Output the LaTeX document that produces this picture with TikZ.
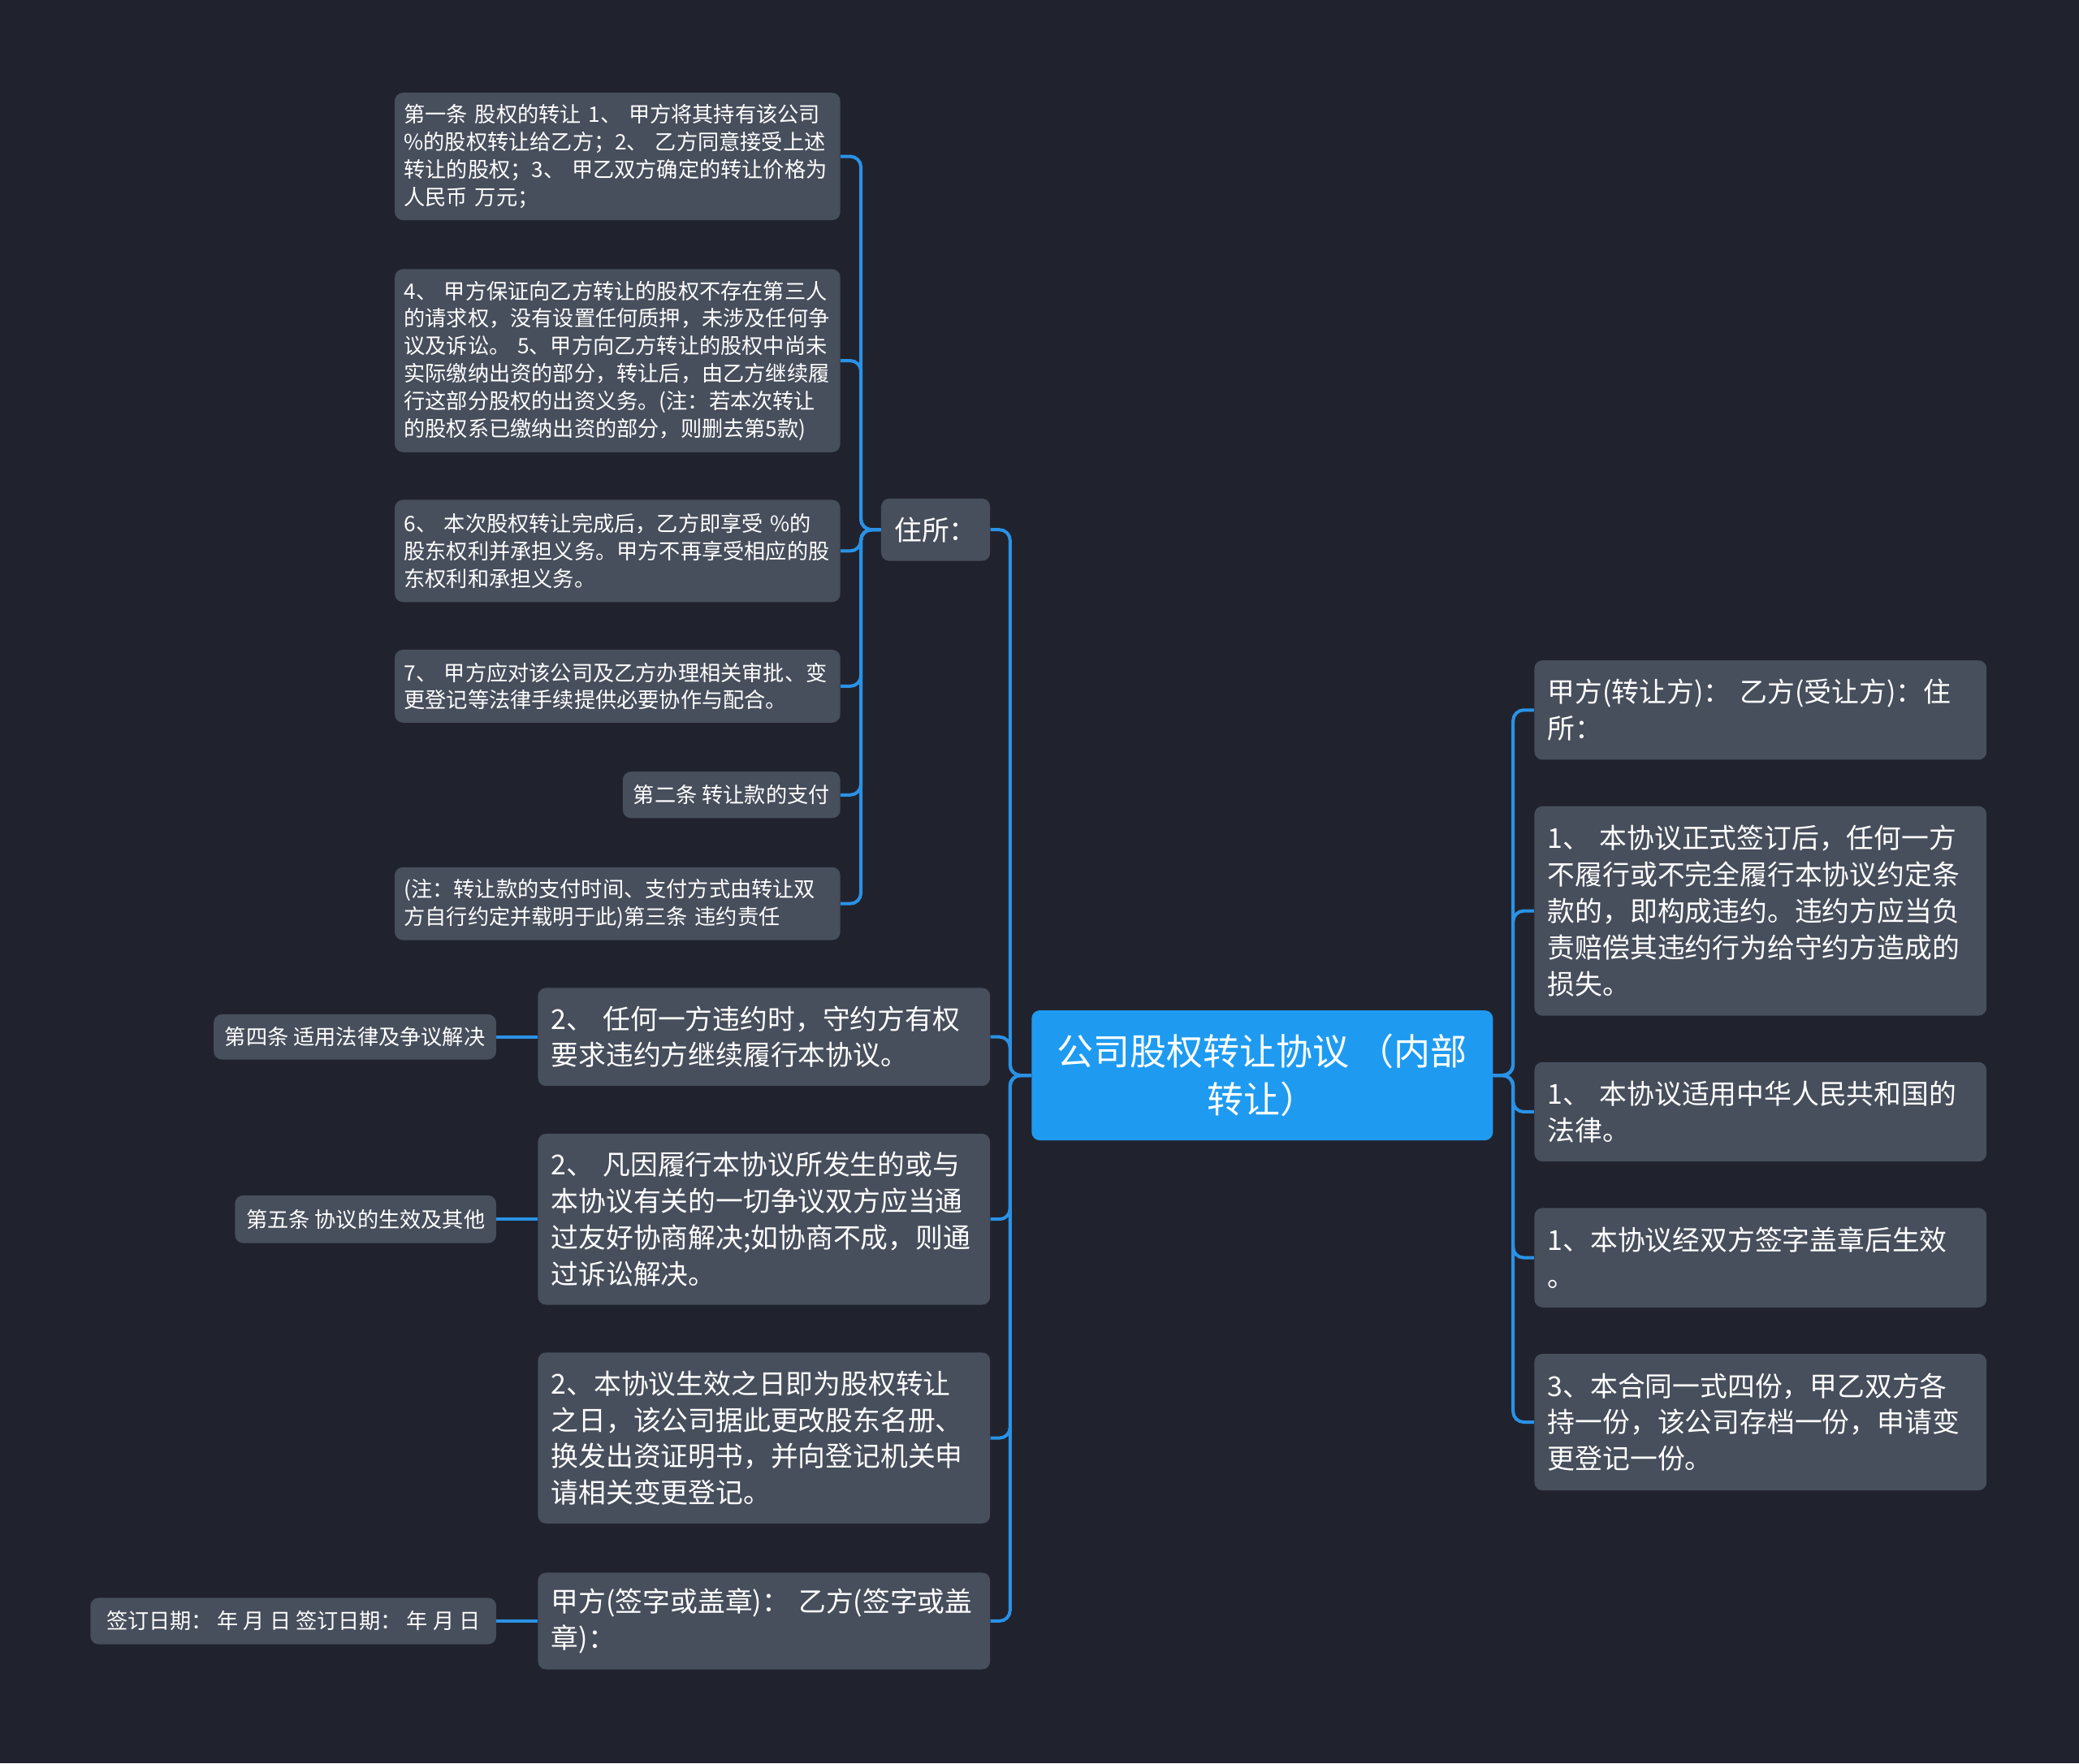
\documentclass[tikz,border=0pt]{standalone}
\usepackage{fontspec}
\setmainfont{Noto Sans CJK SC}
\usetikzlibrary{positioning}
\definecolor{bgNavy}{HTML}{20232E}
\definecolor{boxSlate}{HTML}{474E5C}
\definecolor{rootBlue}{HTML}{1E9BF0}
\definecolor{linkBlue}{HTML}{2A92E6}
\newcommand\fsSmall{\fontsize{13.1pt}{16.9pt}\selectfont}
\newcommand\fsMid{\fontsize{16.9pt}{22.4pt}\selectfont}
\newcommand\fsRoot{\fontsize{22.5pt}{29.4pt}\selectfont}

\begin{document}
\begin{tikzpicture}[x=0.8163pt,y=-0.8163pt,
  leaf/.style={fill=boxSlate,rounded corners=5pt,text=white,font=\fsSmall,align=left,inner xsep=5.7pt,inner ysep=0pt},
  topic/.style={fill=boxSlate,rounded corners=5pt,text=white,font=\fsMid,align=left,inner xsep=8.2pt,inner ysep=0pt,text width=262pt},
  rootbox/.style={fill=rootBlue,rounded corners=5pt,text=white,font=\fsRoot,align=center,minimum width=284pt,minimum height=80pt},
  link/.style={draw=linkBlue,line width=2pt,rounded corners=6.5pt}]
  \fill[bgNavy] (0,0) rectangle (1568,1330);
  \useasboundingbox (0,0) rectangle (1568,1330);

  % centre
  \node[rootbox] (root) at (952,811) {公司股权转让协议 （内部\\转让）};

  % right branch
  \node[topic,anchor=west,minimum height=61.2pt] (r1) at (1157,535.5) {甲方(转让方)：~乙方(受让方)：住\\所：};
  \node[topic,anchor=west,minimum height=129pt] (r2) at (1157,687) {1、~本协议正式签订后，任何一方\\不履行或不完全履行本协议约定条\\款的，即构成违约。违约方应当负\\责赔偿其违约行为给守约方造成的\\损失。};
  \node[topic,anchor=west,minimum height=61.2pt] (r3) at (1157,838.5) {1、~本协议适用中华人民共和国的\\法律。};
  \node[topic,anchor=west,minimum height=61.2pt] (r4) at (1157,948.5) {1、本协议经双方签字盖章后生效\\。};
  \node[topic,anchor=west,minimum height=84.1pt] (r5) at (1157,1072.5) {3、本合同一式四份，甲乙双方各\\持一份，该公司存档一份，申请变\\更登记一份。};

  % left branch
  \node[topic,anchor=east,text width=,minimum width=66.9pt,minimum height=38.4pt] (l1) at (747,399.5) {住所：};
  \node[topic,anchor=east,minimum height=60.4pt] (l2) at (747,782) {2、~任何一方违约时，守约方有权\\要求违约方继续履行本协议。};
  \node[topic,anchor=east,minimum height=105.3pt] (l3) at (747,919.5) {2、~凡因履行本协议所发生的或与\\本协议有关的一切争议双方应当通\\过友好协商解决;如协商不成，则通\\过诉讼解决。};
  \node[topic,anchor=east,minimum height=105.3pt] (l4) at (747,1084.5) {2、本协议生效之日即为股权转让\\之日，该公司据此更改股东名册、\\换发出资证明书，并向登记机关申\\请相关变更登记。};
  \node[topic,anchor=east,minimum height=59.6pt] (l5) at (747,1222.5) {甲方(签字或盖章)：~乙方(签字或盖\\章)：};

  % articles under 住所
  \node[leaf,anchor=east,text width=262.9pt,minimum height=78.4pt] (a1) at (634,118) {第一条~股权的转让~1、~甲方将其持有该公司\\\%的股权转让给乙方；2、~乙方同意接受上述\\转让的股权；3、~甲乙双方确定的转让价格为\\人民币~万元；};
  \node[leaf,anchor=east,text width=262.9pt,minimum height=112.7pt] (a2) at (634,272) {4、~甲方保证向乙方转让的股权不存在第三人\\的请求权，没有设置任何质押，未涉及任何争\\议及诉讼。~5、甲方向乙方转让的股权中尚未\\实际缴纳出资的部分，转让后，由乙方继续履\\行这部分股权的出资义务。(注：若本次转让\\的股权系已缴纳出资的部分，则删去第5款)};
  \node[leaf,anchor=east,text width=262.9pt,minimum height=62.9pt] (a3) at (634,415.5) {6、~本次股权转让完成后，乙方即享受~\%的\\股东权利并承担义务。甲方不再享受相应的股\\东权利和承担义务。};
  \node[leaf,anchor=east,text width=262.9pt,minimum height=44.9pt] (a4) at (634,517.5) {7、~甲方应对该公司及乙方办理相关审批、变\\更登记等法律手续提供必要协作与配合。};
  \node[leaf,anchor=east,minimum width=133.9pt,minimum height=28.6pt] (a5) at (634,599.5) {第二条 转让款的支付};
  \node[leaf,anchor=east,text width=262.9pt,minimum height=44.9pt] (a6) at (634,681.5) {(注：转让款的支付时间、支付方式由转让双\\方自行约定并载明于此)第三条~违约责任};

  % outer leaves
  \node[leaf,left=25.3pt of l2,minimum width=173.9pt,minimum height=27.8pt] (art4) {第四条 适用法律及争议解决};
  \node[leaf,left=25.3pt of l3,minimum width=160.8pt,minimum height=29.4pt] (art5) {第五条 协议的生效及其他};
  \node[leaf,left=25.3pt of l5,minimum width=249.8pt,minimum height=28.6pt] (sign) {签订日期： 年 月 日 签订日期： 年 月 日};

  % connectors
  \foreach \n in {1,...,5} \draw[link] (root.east) -- ++(15,0) |- (r\n.west);
  \foreach \n in {1,...,5} \draw[link] (root.west) -- ++(-16,0) |- (l\n.east);
  \foreach \n in {1,...,6} \draw[link] (l1.west) -- ++(-15,0) |- (a\n.east);
  \draw[link] (l2.west) -- (art4.east);
  \draw[link] (l3.west) -- (art5.east);
  \draw[link] (l5.west) -- (sign.east);
\end{tikzpicture}
\end{document}
